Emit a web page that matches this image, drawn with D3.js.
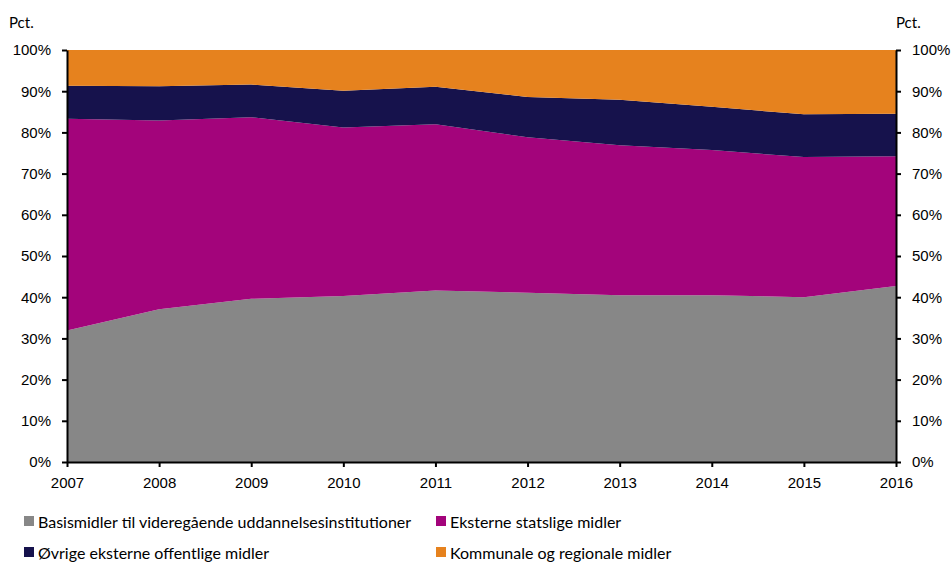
<!DOCTYPE html>
<html>
<head>
<meta charset="utf-8">
<script src="https://cdn.jsdelivr.net/npm/d3@7"></script>
<style>
  html, body { margin: 0; padding: 0; background: #fff; }
  svg { display: block; font-family: Lato, "Open Sans", sans-serif; }
  .axis text { font-size: 15px; fill: #000; }
  .axis path, .axis line { stroke: #000; stroke-width: 2px; }
</style>
</head>
<body>
<svg id="chart" width="952" height="563"></svg>
<script>
// Funding shares by source, per cent of total, 2007-2016
const years = [2007, 2008, 2009, 2010, 2011, 2012, 2013, 2014, 2015, 2016];
const basismidler = [31.9, 37.1, 39.6, 40.3, 41.6, 41.1, 40.5, 40.5, 40.0, 42.7];
const statslige   = [51.4, 45.8, 44.1, 40.9, 40.4, 37.7, 36.4, 35.2, 34.0, 31.5];
const ovrige      = [8.0, 8.3, 7.9, 8.9, 9.1, 9.8, 11.0, 10.5, 10.4, 10.3];
const kommunale   = [8.7, 8.8, 8.4, 9.9, 8.9, 11.4, 12.1, 13.8, 15.6, 15.5];

const seriesNames = [
  "Basismidler til videregående uddannelsesinstitutioner",
  "Eksterne statslige midler",
  "Øvrige eksterne offentlige midler",
  "Kommunale og regionale midler"
];
const seriesColors = ["#878787", "#a3047b", "#16124c", "#e6821e"];
const yTicks = [0, 10, 20, 30, 40, 50, 60, 70, 80, 90, 100];

const svg = d3.select("#chart");
const plot = { left: 67, right: 896, top: 50, bottom: 462 };

const x = d3.scaleLinear().domain([years[0], years[years.length - 1]]).range([plot.left, plot.right]);
const y = d3.scaleLinear().domain([0, 100]).range([plot.bottom, plot.top]);

const rows = years.map((yr, i) => ({
  year: yr,
  s0: basismidler[i], s1: statslige[i], s2: ovrige[i], s3: kommunale[i]
}));
const stack = d3.stack().keys(["s0", "s1", "s2", "s3"]).offset(d3.stackOffsetExpand);
const layers = stack(rows);

const area = d3.area()
  .x(d => x(d.data.year))
  .y0(d => y(d[0] * 100))
  .y1(d => y(d[1] * 100));

svg.append("g").selectAll("path")
  .data(layers)
  .join("path")
  .attr("d", area)
  .attr("fill", (d, i) => seriesColors[i]);

const pctFmt = d => d + "%";

// Left axis
svg.append("g").attr("class", "axis")
  .attr("transform", `translate(${plot.left},0)`)
  .call(d3.axisLeft(y).tickValues(yTicks).tickFormat(pctFmt).tickSize(5).tickSizeOuter(0).tickPadding(11));

// Right axis
svg.append("g").attr("class", "axis")
  .attr("transform", `translate(${plot.right},0)`)
  .call(d3.axisRight(y).tickValues(yTicks).tickFormat(pctFmt).tickSize(5).tickSizeOuter(0).tickPadding(11));

// Bottom axis
svg.append("g").attr("class", "axis")
  .attr("transform", `translate(0,${plot.bottom})`)
  .call(d3.axisBottom(x).tickValues(years).tickFormat(d3.format("d")).tickSize(5).tickSizeOuter(0).tickPadding(10));

// Unit labels
svg.append("text").attr("x", 9).attr("y", 28).attr("font-size", 15).text("Pct.");
svg.append("text").attr("x", 896).attr("y", 28).attr("font-size", 15).text("Pct.");

// Legend, two rows of two entries
const legendPos = [[24, 522], [436, 522], [24, 553], [436, 553]];
const legend = svg.append("g").selectAll("g")
  .data(seriesNames)
  .join("g")
  .attr("transform", (d, i) => `translate(${legendPos[i][0]},${legendPos[i][1]})`);
legend.append("rect").attr("x", 0).attr("y", -6).attr("width", 10).attr("height", 10)
  .attr("fill", (d, i) => seriesColors[i]);
legend.append("text").attr("x", 14).attr("y", 0).attr("dy", "0.35em")
  .attr("font-size", 16).text(d => d);
</script>
</body>
</html>
